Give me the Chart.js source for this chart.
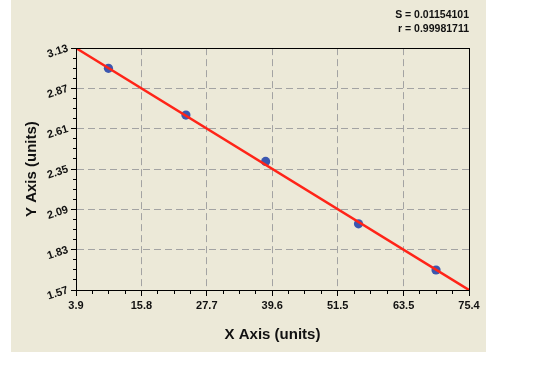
<!DOCTYPE html>
<html>
<head>
<meta charset="utf-8">
<script src="https://cdn.jsdelivr.net/npm/chart.js@4/dist/chart.umd.min.js"></script>
<style>
  html, body { margin: 0; padding: 0; background: #ffffff; }
  #wrap { position: relative; width: 558px; height: 369px; }
  #panel { position: absolute; left: 11px; top: 0; width: 475px; height: 352px; background: #ece9d8; }
  #chartBox { position: absolute; left: 0; top: 0; width: 558px; height: 369px; }
</style>
</head>
<body>
<div id="wrap">
  <div id="panel"></div>
  <div id="chartBox"><canvas id="mainChart"></canvas></div>
</div>
<script>
// ======================================================
// DATA
// ======================================================
const xTickValues = [3.9, 15.8, 27.7, 39.6, 51.5, 63.5, 75.4];
const xTickLabels = ['3.9', '15.8', '27.7', '39.6', '51.5', '63.5', '75.4'];
const yTickValues = [3.13, 2.87, 2.61, 2.35, 2.09, 1.83, 1.57];
const yTickLabels = ['3.13', '2.87', '2.61', '2.35', '2.09', '1.83', '1.57'];

const pointX = [9.8, 23.9, 38.4, 55.3, 69.4];
const pointY = [3.00, 2.698, 2.399, 1.997, 1.699];

const fitX = [3.9, 75.4];
const fitY = [3.13, 1.57];

const statLines = ['S = 0.01154101', 'r = 0.99981711'];

// ======================================================
// HELPERS
// ======================================================
function minorTicks(majors) {
  const sorted = [...majors].sort((a, b) => a - b);
  const out = [];
  for (let i = 0; i < sorted.length - 1; i++) {
    const step = (sorted[i + 1] - sorted[i]) / 4;
    for (let k = 1; k < 4; k++) out.push({ value: sorted[i] + k * step });
  }
  return out;
}

const tickFont = { family: "'Liberation Sans', Arial, sans-serif", size: 11, weight: 'bold' };
const titleFont = { family: "'Liberation Sans', Arial, sans-serif", size: 15, weight: 'bold' };

const plotFrame = {
  id: 'plotFrame',
  afterDraw(chart) {
    const { ctx, chartArea: a } = chart;
    ctx.save();
    ctx.strokeStyle = '#000000';
    ctx.lineWidth = 1;
    ctx.strokeRect(Math.round(a.left) + 0.5, Math.round(a.top) + 0.5,
      Math.round(a.right - a.left), Math.round(a.bottom - a.top));
    ctx.restore();
  }
};

// ======================================================
// CHART
// ======================================================
function initChart() {
  const ctx = document.getElementById('mainChart').getContext('2d');

  new Chart(ctx, {
    type: 'scatter',
    data: {
      datasets: [
        {
          type: 'line',
          label: 'fit',
          data: fitX.map((x, i) => ({ x, y: fitY[i] })),
          borderColor: '#ff2418',
          borderWidth: 2.5,
          pointRadius: 0,
          tension: 0,
          fill: false,
          order: 0,
          xAxisID: 'x',
          yAxisID: 'y',
        },
        {
          label: 'points',
          data: pointX.map((x, i) => ({ x, y: pointY[i] })),
          backgroundColor: '#3b57b0',
          borderColor: '#3b57b0',
          borderWidth: 0,
          pointRadius: 4.6,
          order: 1,
          xAxisID: 'x',
          yAxisID: 'y',
        }
      ]
    },
    options: {
      responsive: true,
      maintainAspectRatio: false,
      animation: false,
      layout: { padding: { left: 10, right: 89, top: 0, bottom: 17 } },
      plugins: {
        legend: { display: false },
        tooltip: { enabled: false },
        title: {
          display: true,
          text: statLines,
          align: 'end',
          color: '#111111',
          font: { family: "'Liberation Sans', Arial, sans-serif", size: 10.5, weight: 'bold', lineHeight: 1.34 },
          padding: { top: 8, bottom: 12 },
        }
      },
      scales: {
        x: {
          type: 'linear',
          position: 'bottom',
          min: 3.9,
          max: 75.4,
          afterBuildTicks: s => { s.ticks = xTickValues.map(v => ({ value: v })); },
          afterFit: s => { s.height = 62; },
          ticks: {
            color: '#111111',
            font: tickFont,
            padding: 3,
            maxRotation: 0,
            autoSkip: false,
            callback: (v, i) => xTickLabels[i],
          },
          grid: { color: '#a3a3a3', tickColor: '#000000', tickLength: 6, lineWidth: 1 },
          border: { color: '#000000', width: 1, dash: [7, 4] },
          title: { display: true, text: 'X Axis (units)', color: '#111111', font: titleFont, padding: { top: 0, bottom: 8 } },
        },
        xMinor: {
          type: 'linear',
          position: 'bottom',
          weight: -1,
          min: 3.9,
          max: 75.4,
          afterBuildTicks: s => { s.ticks = minorTicks(xTickValues); },
          afterFit: s => { s.height = 0; },
          ticks: { display: false },
          grid: { drawOnChartArea: false, tickColor: '#000000', tickLength: 4 },
          border: { display: false },
        },
        y: {
          type: 'linear',
          position: 'left',
          min: 1.57,
          max: 3.13,
          afterBuildTicks: s => { s.ticks = yTickValues.map(v => ({ value: v })).reverse(); },
          afterFit: s => { s.width = 66; },
          ticks: {
            color: '#111111',
            font: tickFont,
            padding: 3,
            minRotation: 18,
            maxRotation: 18,
            autoSkip: false,
            callback: (v, i) => [...yTickLabels].reverse()[i],
          },
          grid: { color: '#a3a3a3', tickColor: '#000000', tickLength: 5, lineWidth: 1 },
          border: { color: '#000000', width: 1, dash: [7, 4] },
          title: { display: true, text: 'Y Axis (units)', color: '#111111', font: titleFont, padding: { top: 13, bottom: 0 } },
        },
        yMinor: {
          type: 'linear',
          position: 'left',
          weight: -1,
          min: 1.57,
          max: 3.13,
          afterBuildTicks: s => { s.ticks = minorTicks(yTickValues); },
          afterFit: s => { s.width = 0; },
          ticks: { display: false },
          grid: { drawOnChartArea: false, tickColor: '#000000', tickLength: 3 },
          border: { display: false },
        }
      }
    },
    plugins: [plotFrame]
  });
}

initChart();
</script>
</body>
</html>
